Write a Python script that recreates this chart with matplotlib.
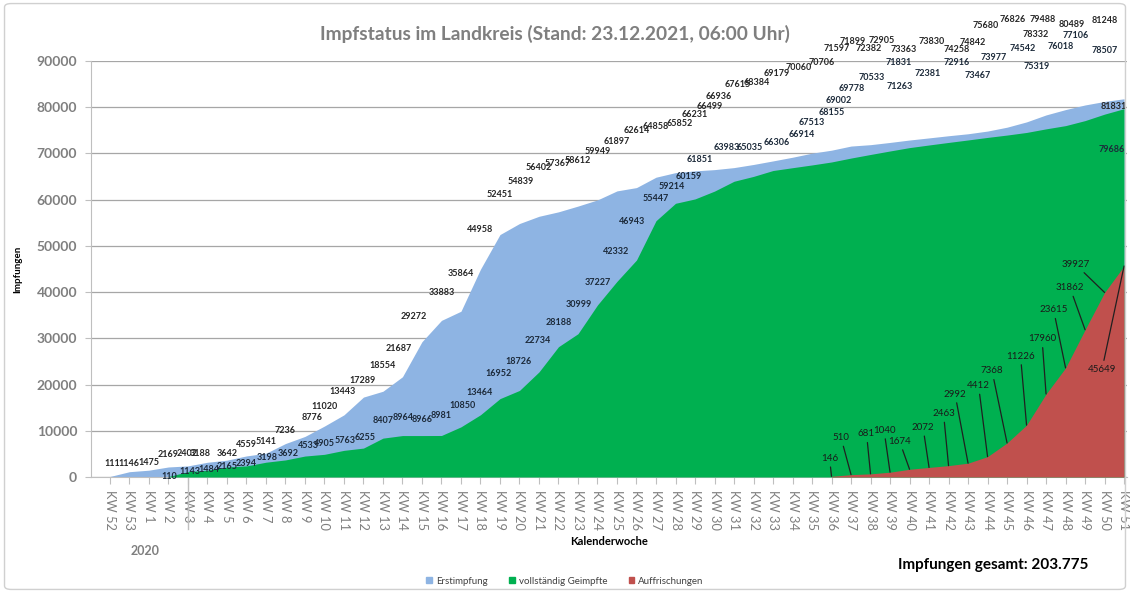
import numpy as np
import matplotlib.pyplot as plt
from matplotlib.patches import Patch, FancyBboxPatch

plt.rcParams['font.family'] = ['Lato', 'DejaVu Sans']

# --- data -------------------------------------------------------------
weeks = ['KW 52', 'KW 53'] + [f'KW {k}' for k in range(1, 52)]

# Erstimpfung, KW 52 (2020) .. KW 51 (2021)
erstimpfung = [111, 1146, 1475, 2169, 2402, 3188, 3642, 4559, 5141, 7236,
               8776, 11020, 13443, 17289, 18554, 21687, 29272, 33883, 35864, 44958,
               52451, 54839, 56402, 57367, 58612, 59949, 61897, 62614, 64858, 65852,
               66231, 66499, 66936, 67615, 68384, 69179, 70060, 70706, 71597, 71899,
               72382, 72905, 73363, 73830, 74258, 74842, 75680, 76826, 78332, 79488,
               80489, 81248, 81831]

# vollstaendig Geimpfte, KW 2 .. KW 51
vollstaendig = [110, 1143, 1484, 2165, 2394, 3198, 3692, 4533, 4905, 5763,
                6255, 8407, 8964, 8966, 8981, 10850, 13464, 16952, 18726, 22734,
                28188, 30999, 37227, 42332, 46943, 55447, 59214, 60159, 61851, 63983,
                65035, 66306, 66914, 67513, 68155, 69002, 69778, 70533, 71263, 71831,
                72381, 72916, 73467, 73977, 74542, 75319, 76018, 77106, 78507, 79686]

# Auffrischungen, KW 36 .. KW 51
auffrischungen = [146, 510, 681, 1040, 1674, 2072, 2463, 2992, 4412, 7368,
                  11226, 17960, 23615, 31862, 39927, 45649]

gesamt = '203.775'

# label offsets in pixels (dx, dy with dy downward), as placed in the original
off_erst = [(2, -13), (0, -8), (0, -8), (0, -12), (-1, -12), (-7, -9), (0, -7), (0, -11),
            (0, -12), (0, -13), (7, -19), (0, -20), (-1, -23), (-1, -17), (0, -26),
            (-4, -28), (-8, -25), (0, -28), (0, -38), (0, -40), (0, -40), (1, -42),
            (0, -49), (-1, -48), (0, -46), (0, -48), (0, -49), (0, -57), (0, -51),
            (4, -49), (0, -56), (-5, -63), (-15, -71), (-16, -80), (-16, -78),
            (-16, -84), (-13, -86), (-10, -88), (-14, -98), (-18, -103), (-21, -94),
            (-28, -100), (-25, -88), (-17, -94), (-11, -84), (-15, -89), (-21, -102),
            (-14, -102), (-10, -80), (-23, -90), (-13, -80), (0, -81), (-10, 8)]
off_voll = [(1, 0), (2, 0), (1, -1), (0, 0), (0, -2), (1, -5), (3, -6), (3, -11),
            (0, -11), (1, -10), (2, -11), (0, -18), (1, -18), (0, -16), (0, -20),
            (2, -21), (-1, -22), (-1, -25), (-1, -29), (-1, -31), (0, -24), (1, -29),
            (0, -22), (-1, -30), (-4, -39), (0, -22), (-4, -17), (-6, -22), (-15, -32),
            (-7, -34), (-4, -29), (4, -28), (9, -33), (0, -42), (0, -49), (-12, -58),
            (-19, -66), (-18, -73), (-10, -61), (-30, -82), (-21, -69), (-11, -77),
            (-10, -62), (-13, -78), (-4, -84), (-9, -62), (-5, -79), (-9, -85),
            (0, -64), (-12, 41)]
off_auff = [(-2, -18), (-10, -37), (-4, -40), (-6, -42), (-10, -28), (-6, -40),
            (-5, -52), (-13, -69), (-9, -71), (-15, -72), (-6, -69), (-4, -55),
            (-12, -58), (-15, -42), (-29, -28), (-22, 103)]

c_blue = '#8EB4E3'
c_green = '#00B050'
c_red = '#C0504D'
c_gray = '#7F7F7F'
c_lbl = '#262626'

x = np.arange(len(weeks))
x_voll = x[weeks.index('KW 2'):]
x_auff = x[weeks.index('KW 36'):]

fig = plt.figure(figsize=(11.3, 5.93), dpi=100)
fig.patches.append(FancyBboxPatch((0.004, 0.006), 0.992, 0.988,
                                  boxstyle='round,pad=0,rounding_size=0.006',
                                  transform=fig.transFigure, fill=False,
                                  edgecolor='#D0D0D0', linewidth=1))

ax = fig.add_axes([91 / 1130, 116 / 593, 1036 / 1130, 416 / 593])

ax.fill_between(x, 0, erstimpfung, color=c_blue, lw=0, zorder=2)
ax.fill_between(x_voll, 0, vollstaendig, color=c_green, lw=0, zorder=3)
ax.fill_between(x_auff, 0, auffrischungen, color=c_red, lw=0, zorder=4)

# data labels
for xi, v, (dx, dy) in zip(x, erstimpfung, off_erst):
    ax.annotate(str(v), (xi, v), xytext=(dx, -dy), textcoords='offset pixels',
                ha='center', va='center', fontsize=6.5, fontweight='bold',
                color=c_lbl, zorder=6)
for xi, v, (dx, dy) in zip(x_voll, vollstaendig, off_voll):
    ax.annotate(str(v), (xi, v), xytext=(dx, -dy), textcoords='offset pixels',
                ha='center', va='center', fontsize=6.5, fontweight='bold',
                color='#1C2A3A', zorder=6)
for xi, v, (dx, dy) in zip(x_auff, auffrischungen, off_auff):
    ax.annotate(str(v), (xi, v), xytext=(dx, -dy), textcoords='offset pixels',
                ha='center', va='center', fontsize=7, color='#1A1A1A', zorder=6,
                arrowprops=dict(arrowstyle='-', color='#202020', lw=0.9,
                                shrinkA=1, shrinkB=0))

ax.set_xlim(-0.97, 52.15)
ax.set_ylim(0, 90000)
ax.set_yticks(np.arange(0, 90001, 10000))
ax.set_xticks(x)
ax.set_xticklabels(weeks, rotation=-90, fontsize=9.3, color=c_gray)
for lab in ax.get_yticklabels():
    lab.set_fontweight('bold')
ax.tick_params(axis='y', labelsize=10, labelcolor=c_gray, length=4,
               color='#BFBFBF', pad=6)
ax.tick_params(axis='x', length=5, color='#BFBFBF', pad=4)

ax.grid(axis='y', color='#A6A6A6', lw=0.9)
ax.set_axisbelow(True)
for s in ['top', 'right']:
    ax.spines[s].set_visible(False)
ax.spines['left'].set_color('#BFBFBF')
ax.spines['bottom'].set_color('#BFBFBF')

# year separator on the category axis
ax.plot([4, 4], [0, -0.125], transform=ax.get_xaxis_transform(),
        color='#BFBFBF', lw=1, clip_on=False)

ax.set_ylabel('Impfungen', fontsize=7, fontweight='bold', labelpad=10)
ax.set_xlabel('Kalenderwoche', fontsize=8, fontweight='bold', labelpad=5)

fig.text(0.491, 0.942, 'Impfstatus im Landkreis (Stand: 23.12.2021, 06:00 Uhr)',
         ha='center', va='center', fontsize=13.8, fontweight='bold', color=c_gray)
fig.text(145 / 1130, 1 - 551 / 593, '2020', ha='center', va='center',
         fontsize=9, fontweight='bold', color=c_gray)
fig.text(993 / 1130, 1 - 565 / 593, f'Impfungen gesamt: {gesamt}', ha='center',
         va='center', fontsize=11, fontweight='bold', color='black')

handles = [Patch(color=c_blue, label='Erstimpfung'),
           Patch(color=c_green, label='vollständig Geimpfte'),
           Patch(color=c_red, label='Auffrischungen')]
fig.legend(handles=handles, loc='center', bbox_to_anchor=(565 / 1130, 1 - 581 / 593),
           ncol=3, frameon=False, fontsize=7, handlelength=0.6, handleheight=0.6,
           handletextpad=0.4, columnspacing=2.2, labelcolor='#404040')

fig.savefig('out.png', dpi=100)
